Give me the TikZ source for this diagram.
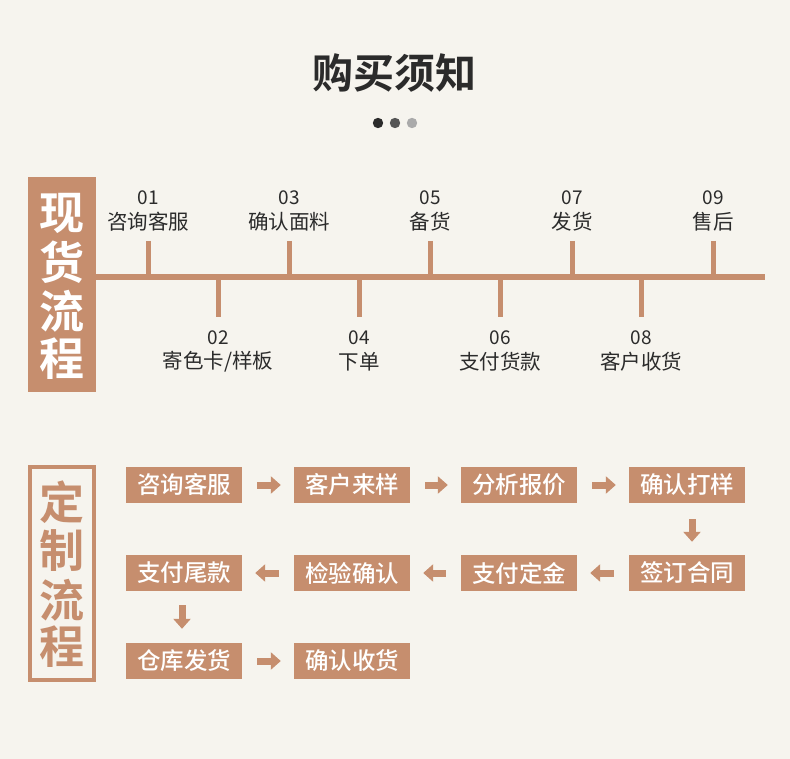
\documentclass[tikz,border=0pt]{standalone}
\usepackage{fontspec}
\setmainfont{Noto Sans CJK SC}
\newfontfamily\cjk{Noto Sans CJK SC}
\newfontfamily\cjkbold{Noto Sans CJK SC Bold}
\newfontfamily\cjkmed{Noto Sans CJK SC Medium}
\usetikzlibrary{arrows.meta}
\definecolor{bg}{HTML}{F6F4EE}
\definecolor{brn}{HTML}{C68E6E}
\definecolor{ink}{HTML}{2B2B2B}
\begin{document}
\begin{tikzpicture}[x=1pt,y=-1pt,
  stepbox/.style={fill=brn,text=white,minimum width=116pt,minimum height=36pt,inner sep=0pt,font=\cjkmed\fontsize{23.5}{23.5}\selectfont},
  flowarrow/.style={draw=brn,line width=7pt,-{Triangle[length=10pt,width=17pt]}},
  tick/.style={draw=brn,line width=5pt},
  numlbl/.style={text=ink,font=\cjk\fontsize{19}{19}\selectfont,inner sep=0pt},
  txtlbl/.style={text=ink,font=\cjk\fontsize{20.5}{20.5}\selectfont,inner sep=0pt},
  bigchar/.style={font=\cjkbold\fontsize{45}{45}\selectfont,inner sep=0pt}]
\fill[bg] (0,0) rectangle (790,759);
\useasboundingbox (0,0) rectangle (790,759);
% title
\node[text=ink,font=\cjkbold\fontsize{41}{41}\selectfont,inner sep=0pt] (title) at (394,73) {购买须知};
\fill[ink] (378,123) circle (5.2);
\fill[ink!80] (395,123) circle (5.2);
\fill[ink!40] (412,123) circle (5.2);
% section 1
\fill[brn] (28,177) rectangle (96,392);
\node[text=white,bigchar] (s1a) at (62,213) {现};
\node[text=white,bigchar] (s1b) at (62,262) {货};
\node[text=white,bigchar] (s1c) at (62,311) {流};
\node[text=white,bigchar] (s1d) at (62,359) {程};
\coordinate (tl0) at (96,277);
\coordinate (tl1) at (765,277);
\draw[brn,line width=6pt] (tl0) -- (tl1);
% upper ticks
\foreach \x/\n/\t in {148/01/{咨询客服},289/03/{确认面料},430/05/{备货},572/07/{发货},713/09/{售后}}{
  \coordinate (u\n) at (\x,241);
  \coordinate (ub\n) at (\x,277);
  \draw[tick] (u\n) -- (ub\n);
  \node[numlbl] (nu\n) at (\x,198) {\n};
  \node[txtlbl] (tu\n) at (\x,222) {\t};
}
% lower ticks
\foreach \x/\n/\t in {218/02/{寄色卡/样板},359/04/{下单},500/06/{支付货款},641/08/{客户收货}}{
  \coordinate (d\n) at (\x,317);
  \coordinate (db\n) at (\x,277);
  \draw[tick] (db\n) -- (d\n);
  \node[numlbl] (nd\n) at (\x,338) {\n};
  \node[txtlbl] (td\n) at (\x,362) {\t};
}
% section 2
\draw[brn,line width=4pt] (30,467) rectangle (94,680);
\node[text=brn,bigchar] (s2a) at (62,502) {定};
\node[text=brn,bigchar] (s2b) at (62,551) {制};
\node[text=brn,bigchar] (s2c) at (62,600) {流};
\node[text=brn,bigchar] (s2d) at (62,647) {程};
\node[stepbox] (b1) at (184,485) {咨询客服};
\node[stepbox] (b2) at (352,485) {客户来样};
\node[stepbox] (b3) at (519,485) {分析报价};
\node[stepbox] (b4) at (687,485) {确认打样};
\node[stepbox] (b5) at (687,573) {签订合同};
\node[stepbox] (b6) at (519,573) {支付定金};
\node[stepbox] (b7) at (352,573) {检验确认};
\node[stepbox] (b8) at (184,573) {支付尾款};
\node[stepbox] (b9) at (184,661) {仓库发货};
\node[stepbox] (b10) at (352,661) {确认收货};
\draw[flowarrow,shorten <=15pt,shorten >=13pt] (b1) -- (b2);
\draw[flowarrow,shorten <=15pt,shorten >=13pt] (b2) -- (b3);
\draw[flowarrow,shorten <=15pt,shorten >=13pt] (b3) -- (b4);
\draw[flowarrow,shorten <=16pt,shorten >=13pt] ([xshift=5pt]b4.south) -- ([xshift=5pt]b5.north);
\draw[flowarrow,shorten <=15pt,shorten >=13pt] (b5) -- (b6);
\draw[flowarrow,shorten <=15pt,shorten >=13pt] (b6) -- (b7);
\draw[flowarrow,shorten <=15pt,shorten >=13pt] (b7) -- (b8);
\draw[flowarrow,shorten <=14pt,shorten >=14pt] ([xshift=-2pt]b8.south) -- ([xshift=-2pt]b9.north);
\draw[flowarrow,shorten <=15pt,shorten >=13pt] (b9) -- (b10);
\end{tikzpicture}
\end{document}
